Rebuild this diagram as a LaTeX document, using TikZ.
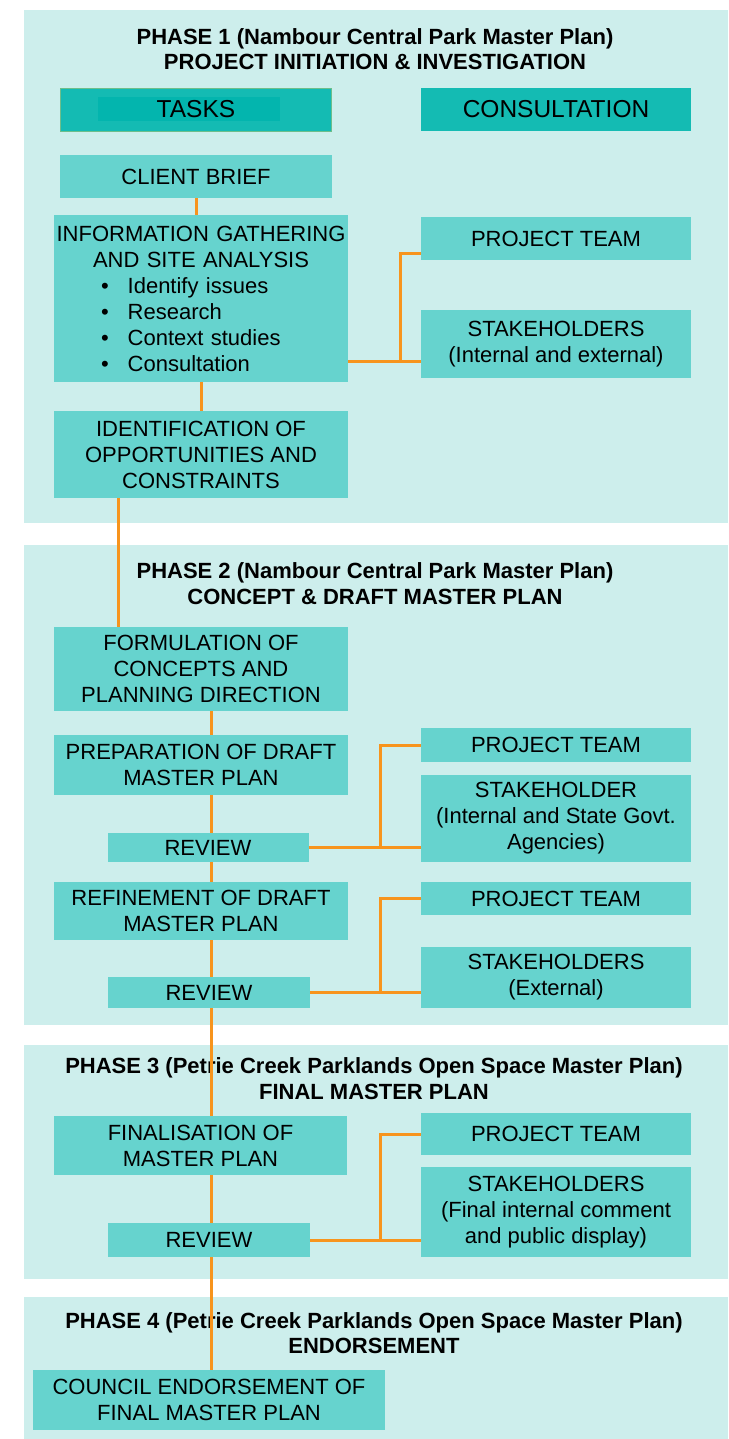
\documentclass[tikz,border=0pt]{standalone}
\usepackage{fontspec}
\setmainfont{Liberation Sans}

\definecolor{panelbg}{HTML}{CDEEEC}
\definecolor{boxfill}{HTML}{66D3CE}
\definecolor{headfill}{HTML}{14BBB3}
\definecolor{headinner}{HTML}{03B5AE}
\definecolor{headedge}{HTML}{6DBE8B}
\definecolor{linkorange}{HTML}{F7941D}

\newcommand{\boxfont}{\fontsize{22}{26}\selectfont}
\newcommand{\titlefont}{\bfseries\fontsize{22}{25.5}\selectfont}
\newcommand{\bulletitem}[1]{\hspace*{47pt}\textbullet\hspace*{19pt}#1}

\tikzset{
  panel/.style={fill=panelbg},
  taskbox/.style={fill=boxfill, inner sep=0pt, align=center, font=\boxfont},
  consultbox/.style={taskbox, minimum width=270pt},
  headbox/.style={fill=headfill, inner sep=0pt, minimum width=271pt, minimum height=43pt,
    font=\fontsize{24.5}{28}\selectfont},
  phasetitle/.style={align=center, font=\titlefont, inner sep=0pt},
  orangelink/.style={draw=linkorange, line width=3pt},
}

\begin{document}
\begin{tikzpicture}[x=1pt, y=-1pt]
  \useasboundingbox (0,0) rectangle (728,1439);

  % Phase panels
  \fill[panel] (24,10) rectangle (728,523);
  \fill[panel] (24,545) rectangle (728,1025);
  \fill[panel] (24,1045) rectangle (728,1279);
  \fill[panel] (24,1297) rectangle (728,1439);

  % Phase titles
  \node[phasetitle] (title1) at (375,49)
    {PHASE 1 (Nambour Central Park Master Plan)\\PROJECT INITIATION \& INVESTIGATION};
  \node[phasetitle] (title2) at (375,583.5)
    {PHASE 2 (Nambour Central Park Master Plan)\\CONCEPT \& DRAFT MASTER PLAN};
  \node[phasetitle] (title3) at (374,1078.5)
    {PHASE 3 (Petrie Creek Parklands Open Space Master Plan)\\FINAL MASTER PLAN};
  \node[phasetitle] (title4) at (374,1333)
    {PHASE 4 (Petrie Creek Parklands Open Space Master Plan)\\ENDORSEMENT};

  % Column headers
  \node[headbox, draw=headedge, line width=0.6pt,
    path picture={\fill[headinner]
      ([xshift=37pt,yshift=-9pt]path picture bounding box.north west) rectangle
      ([xshift=-52pt,yshift=10pt]path picture bounding box.south east);}]
    (tasks) at (196,109.5) {TASKS};
  \node[headbox, minimum width=270pt] (consult) at (556,109.5) {CONSULTATION};

  % Phase 1 boxes
  \node[taskbox, minimum width=272pt, minimum height=43pt] (brief) at (196,176.5) {CLIENT BRIEF};
  \node[taskbox, text width=294pt, minimum height=167pt, align=left] (info) at (201,298.5)
    {\makebox[294pt]{INFORMATION GATHERING}\\
     \makebox[294pt]{AND SITE ANALYSIS}\\
     \bulletitem{Identify issues}\\
     \bulletitem{Research}\\
     \bulletitem{Context studies}\\
     \bulletitem{Consultation}};
  \node[taskbox, minimum width=294pt, minimum height=87pt] (ident) at (201,454.5)
    {IDENTIFICATION OF\\OPPORTUNITIES AND\\CONSTRAINTS};
  \node[consultbox, minimum height=43pt] (pt1) at (556,238.5) {PROJECT TEAM};
  \node[consultbox, minimum height=68pt] (sh1) at (556,344)
    {STAKEHOLDERS\\(Internal and external)};

  % Phase 2 boxes
  \node[taskbox, minimum width=294pt, minimum height=84pt] (formul) at (201,669)
    {FORMULATION OF\\CONCEPTS AND\\PLANNING DIRECTION};
  \node[taskbox, minimum width=294pt, minimum height=60pt] (prep) at (201,765)
    {PREPARATION OF DRAFT\\MASTER PLAN};
  \node[taskbox, minimum width=201pt, minimum height=29pt] (rev1) at (208,847.5) {REVIEW};
  \node[taskbox, minimum width=294pt, minimum height=58pt] (refine) at (201,911)
    {REFINEMENT OF DRAFT\\MASTER PLAN};
  \node[taskbox, minimum width=202pt, minimum height=31pt] (rev2) at (209,992.5) {REVIEW};
  \node[consultbox, minimum height=34pt] (pt2) at (556,745) {PROJECT TEAM};
  \node[consultbox, minimum height=87pt] (sh2) at (556,818.5)
    {STAKEHOLDER\\(Internal and State Govt.\\Agencies)};
  \node[consultbox, minimum height=33pt] (pt3) at (556,898.5) {PROJECT TEAM};
  \node[consultbox, minimum height=61pt] (sh3) at (556,977.5)
    {STAKEHOLDERS\\(External)};

  % Phase 3 boxes
  \node[taskbox, minimum width=293pt, minimum height=59pt] (final) at (200.5,1145.5)
    {FINALISATION OF\\MASTER PLAN};
  \node[taskbox, minimum width=202pt, minimum height=34pt] (rev3) at (209,1240) {REVIEW};
  \node[consultbox, minimum height=42pt] (pt4) at (556,1134) {PROJECT TEAM};
  \node[consultbox, minimum height=90pt] (sh4) at (556,1212)
    {STAKEHOLDERS\\(Final internal comment\\and public display)};

  % Phase 4 box
  \node[taskbox, minimum width=352pt, minimum height=60pt] (council) at (209,1400)
    {COUNCIL ENDORSEMENT OF\\FINAL MASTER PLAN};

  % Task chain
  \coordinate (spine) at (211,0);
  \coordinate (riser) at (380,0);
  \draw[orangelink] (brief.south) -- (brief.south |- info.north);
  \draw[orangelink] (info.south) -- (info.south |- ident.north);
  \draw[orangelink] ([xshift=-83pt]ident.south) -- ([xshift=-83pt]ident.south |- formul.north);
  \draw[orangelink] (formul.south -| spine) -- (prep.north -| spine);
  \draw[orangelink] (prep.south -| spine) -- (rev1.north -| spine);
  \draw[orangelink] (rev1.south -| spine) -- (refine.north -| spine);
  \draw[orangelink] (refine.south -| spine) -- (rev2.north -| spine);
  \draw[orangelink] (rev2.south -| spine) -- (final.north -| spine);
  \draw[orangelink] (final.south -| spine) -- (rev3.north -| spine);
  \draw[orangelink] (rev3.south -| spine) -- (council.north -| spine);

  % Consultation links
  \coordinate (hub1) at (400,361);
  \draw[orangelink] (info.east |- hub1) -- (sh1.west |- hub1);
  \draw[orangelink] (hub1) |- ([yshift=-15.5pt]pt1.west);
  \foreach \rev/\team/\stake in {rev1/pt2/sh2, rev2/pt3/sh3, rev3/pt4/sh4} {
    \draw[orangelink] (\rev.east) -- (\stake.west |- \rev.east);
    \draw[orangelink] (\rev.east -| riser) |- (\team.west);
  }
\end{tikzpicture}
\end{document}
